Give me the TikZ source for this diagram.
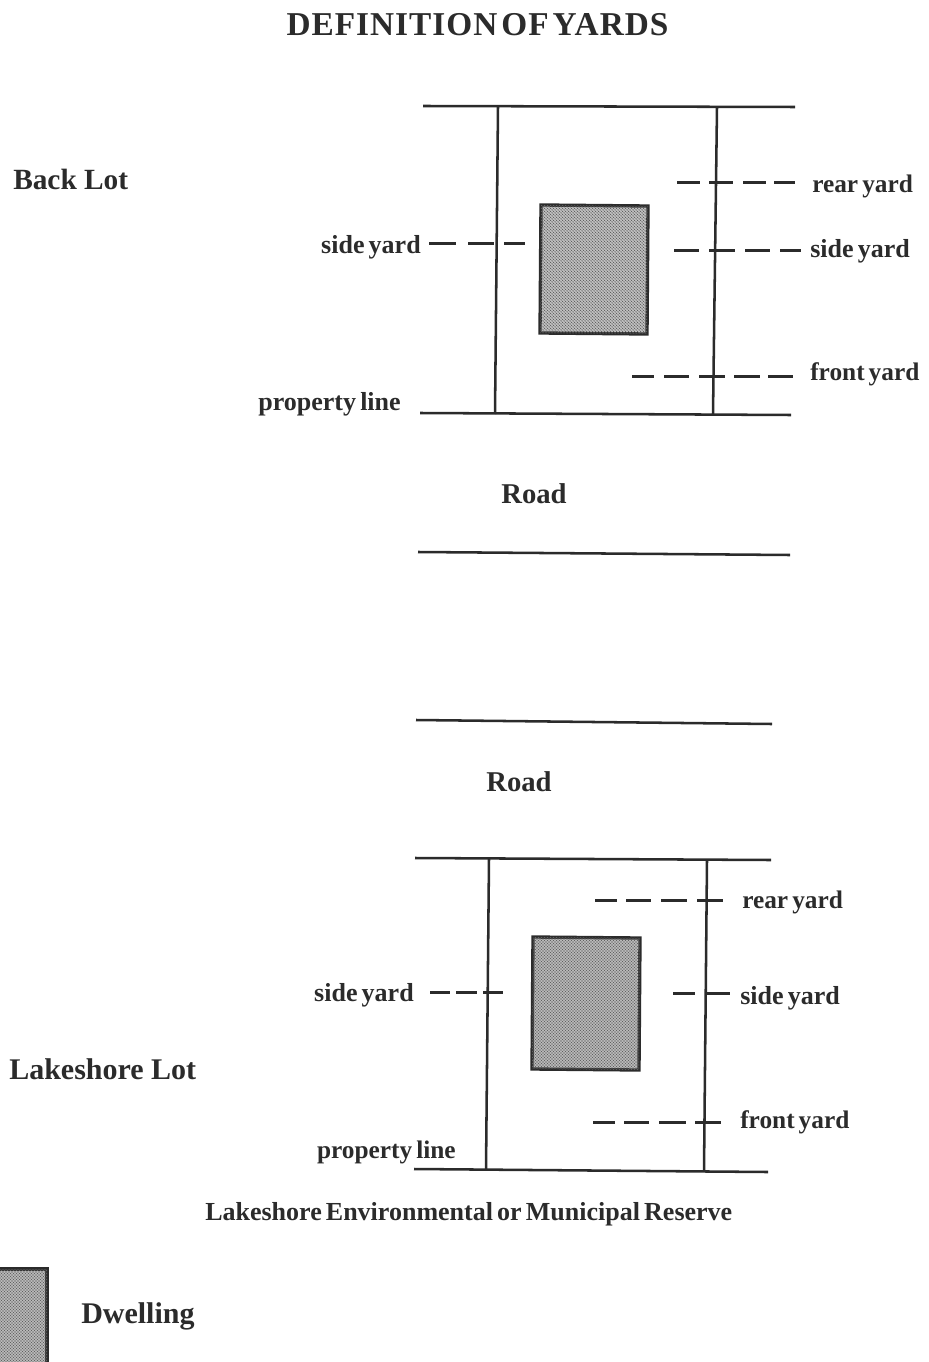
\documentclass[tikz,border=0pt]{standalone}
\usepackage{fontspec}
\setmainfont{Liberation Serif}
\newfontfamily\titlefam[LetterSpace=3]{Liberation Serif}
\newcommand\tightwords[2]{{\spaceskip=#1em\relax #2}}
\usetikzlibrary{patterns}
\definecolor{ink}{gray}{0.17}
\pgfdeclarepatternformonly{halftone}{\pgfqpoint{-0.6pt}{-0.6pt}}{\pgfqpoint{1.7pt}{1.7pt}}{\pgfqpoint{2.25pt}{2.25pt}}{
  \pgfpathcircle{\pgfqpoint{0pt}{0pt}}{0.58pt}
  \pgfpathcircle{\pgfqpoint{1.125pt}{1.125pt}}{0.58pt}
  \pgfusepath{fill}}
\tikzset{
  lotline/.style={draw=ink,line width=1.9pt},
  dashseg/.style={draw=ink,line width=2.1pt},
  dwellingbox/.style={draw=ink,line width=2.5pt,fill=black!18,postaction={pattern=halftone,pattern color=black!62}},
  lbl/.style={text=ink,font=\fontsize{19.5}{22}\selectfont\bfseries,inner sep=0pt},
  lblsmall/.style={text=ink,font=\fontsize{19}{22}\selectfont\bfseries,inner sep=0pt},
  lblb/.style={text=ink,font=\fontsize{21.5}{24}\selectfont\bfseries,inner sep=0pt},
  lblc/.style={text=ink,font=\fontsize{22.5}{24}\selectfont\bfseries,inner sep=0pt},
}
\begin{document}
\begin{tikzpicture}[x=0.75pt,y=-0.75pt]
\useasboundingbox (0,0) rectangle (928,1362);

\node[text=ink,font=\fontsize{25}{28}\selectfont\titlefam\bfseries,inner sep=0pt] (title) at (477.5,25) {\tightwords{.12}{DEFINITION OF YARDS}};

% Back lot
\node[lblb,anchor=west,font=\fontsize{22}{24}\selectfont\bfseries] (backlot) at (13,179) {Back Lot};
\draw[lotline] (423,106) -- (795,107);
\draw[lotline] (420,413) -- (791,415);
\draw[lotline] (498,106) -- (495,414);
\draw[lotline] (717,107) -- (713,414);
\draw[lotline] (418,552) -- (790,555);
\draw[dwellingbox] (541,205) -- (648,206) -- (647,334) -- (540,333) -- cycle;
\foreach \a/\b in {677/700,709/733,743/766,774/795} \draw[dashseg] (\a,182.5) -- (\b,182.5);
\foreach \a/\b in {674/699,709/735,745/770,780/801} \draw[dashseg] (\a,250.5) -- (\b,250.5);
\foreach \a/\b in {429/456,468/494,504/525} \draw[dashseg] (\a,243.5) -- (\b,243.5);
\foreach \a/\b in {632/654,664/689,699/725,734/760,768/793} \draw[dashseg] (\a,376.5) -- (\b,376.5);
\node[lblsmall,anchor=west] (ry1) at (812,186) {\tightwords{.16}{rear yard}};
\node[lbl,anchor=west] (sy1r) at (810,251) {\tightwords{.16}{side yard}};
\node[lbl,anchor=east] (sy1l) at (421,247) {\tightwords{.16}{side yard}};
\node[lblsmall,anchor=west] (fy1) at (810,374) {\tightwords{.16}{front yard}};
\node[lbl,anchor=east] (pl1) at (401,404) {\tightwords{.16}{property line}};
\node[lblb] (road1) at (534,494) {Road};

% Lakeshore lot
\draw[lotline] (416,720) -- (772,724);
\node[lblb] (road2) at (519,782) {Road};
\draw[lotline] (415,858) -- (771,860);
\draw[lotline] (414,1169) -- (768,1172);
\draw[lotline] (489,858) -- (486,1170);
\draw[lotline] (707,860) -- (704,1171);
\draw[dwellingbox] (533,937) -- (640,938) -- (639,1070) -- (532,1069) -- cycle;
\foreach \a/\b in {595/617,626/651,661/687,697/723} \draw[dashseg] (\a,900.5) -- (\b,900.5);
\foreach \a/\b in {430/450,456/477,483/503} \draw[dashseg] (\a,992.5) -- (\b,992.5);
\foreach \a/\b in {673/695,705/730} \draw[dashseg] (\a,993.5) -- (\b,993.5);
\foreach \a/\b in {593/615,624/649,659/686,695/721} \draw[dashseg] (\a,1122.5) -- (\b,1122.5);
\node[lblsmall,anchor=west] (ry2) at (742,902) {\tightwords{.16}{rear yard}};
\node[lbl,anchor=west] (sy2r) at (740,998) {\tightwords{.16}{side yard}};
\node[lbl,anchor=east] (sy2l) at (414,995) {\tightwords{.16}{side yard}};
\node[lblsmall,anchor=west] (fy2) at (740,1122) {\tightwords{.16}{front yard}};
\node[lblsmall,anchor=east] (pl2) at (456,1152) {\tightwords{.16}{property line}};
\node[lblc,anchor=west] (lakelot) at (9,1069) {Lakeshore Lot};
\node[lbl,anchor=west] (reserve) at (205,1214) {\tightwords{.16}{Lakeshore Environmental or Municipal Reserve}};

% Legend
\draw[dwellingbox] (-4,1269) -- (47,1269) -- (47,1366) -- (-4,1366) -- cycle;
\node[lblc,anchor=west] (dwelling) at (81,1316) {Dwelling};
\end{tikzpicture}
\end{document}
